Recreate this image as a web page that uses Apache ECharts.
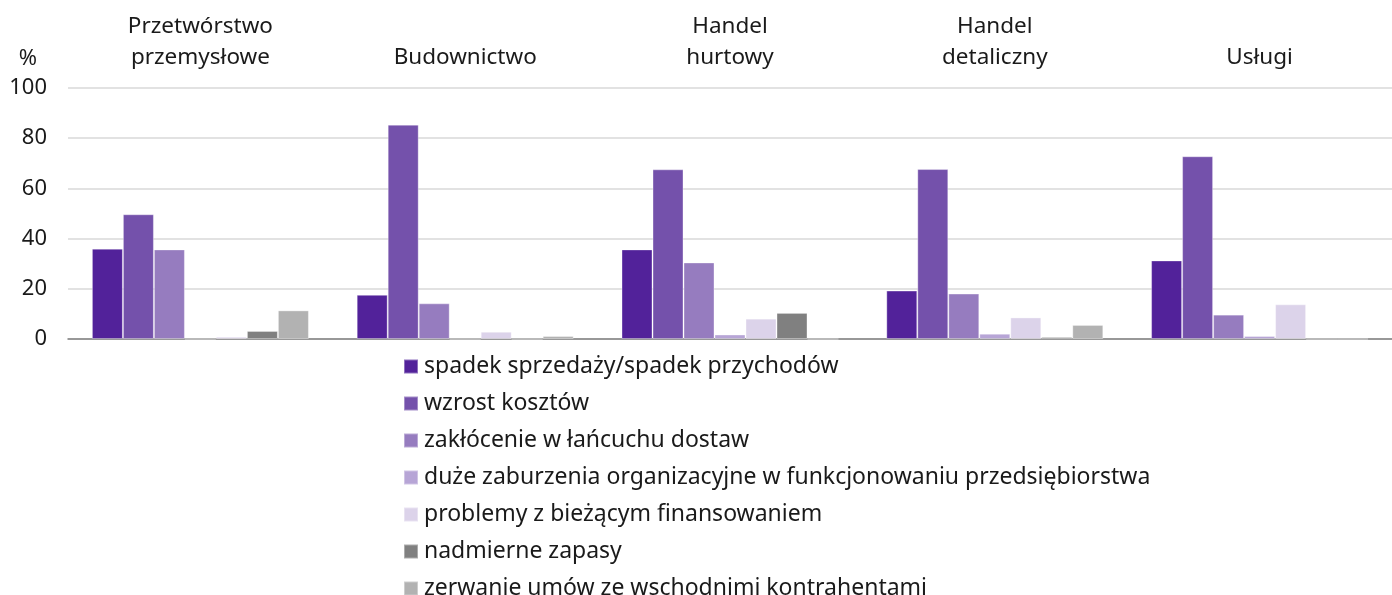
<!DOCTYPE html>
<html>
<head>
<meta charset="utf-8">
<script src="https://cdn.jsdelivr.net/npm/echarts@6/dist/echarts.min.js"></script>
<style>
  html, body { margin: 0; padding: 0; background: #fff; }
  #chart { width: 1392px; height: 595px; }
</style>
</head>
<body>
<div id="chart"></div>
<script>
// kategorie (sekcje)
const sectors = ['Przetwórstwo\nprzemysłowe', 'Budownictwo', 'Handel\nhurtowy', 'Handel\ndetaliczny', 'Usługi']

const seriesNames = [
  'spadek sprzedaży/spadek przychodów',
  'wzrost kosztów',
  'zakłócenie w łańcuchu dostaw',
  'duże zaburzenia organizacyjne w funkcjonowaniu przedsiębiorstwa',
  'problemy z bieżącym finansowaniem',
  'nadmierne zapasy',
  'zerwanie umów ze wschodnimi kontrahentami'
]

// wartości w % dla kolejnych sekcji
const spadekSprzedazy = [36.0, 17.6, 35.7, 19.3, 31.3]
const wzrostKosztow = [49.7, 85.4, 67.6, 67.7, 72.8]
const zaklocenieDostaw = [35.7, 14.2, 30.5, 18.1, 9.7]
const zaburzeniaOrg = [0, 0, 1.8, 2.1, 1.2]
const problemyFinansowe = [0.9, 2.9, 8.1, 8.6, 13.8]
const nadmierneZapasy = [3.2, 0, 10.4, 0.8, 0]
const zerwanieUmow = [11.4, 1.2, 0, 5.6, 0]

const yTicks = [0, 20, 40, 60, 80, 100]

const values = [spadekSprzedazy, wzrostKosztow, zaklocenieDostaw, zaburzeniaOrg, problemyFinansowe, nadmierneZapasy, zerwanieUmow]
const colors = ['#52229a', '#7451ab', '#967cbf', '#b7a5d6', '#dcd3ea', '#808080', '#b2b2b2']

const font = 'Noto Sans'

const chart = echarts.init(document.getElementById('chart'))
chart.setOption({
  animation: false,
  color: colors,
  textStyle: { fontFamily: font },
  grid: { left: 68, right: 0, top: 88, bottom: 256, containLabel: false },
  legend: {
    orient: 'vertical',
    left: 398,
    top: 350,
    height: 400,
    itemWidth: 14,
    itemHeight: 14,
    itemGap: 14,
    icon: 'rect',
    textStyle: { fontSize: 23, color: '#1a1a1a', fontFamily: font, lineHeight: 23, padding: [0, 0, 0, 1] },
    data: seriesNames
  },
  xAxis: [
    {
      type: 'category',
      data: sectors,
      position: 'bottom',
      axisLine: { lineStyle: { color: '#808080', width: 1.5 } },
      axisTick: { show: false },
      axisLabel: { show: false }
    },
    {
      type: 'category',
      data: sectors,
      position: 'top',
      axisLine: { show: false },
      axisTick: { show: false },
      axisLabel: { fontSize: 22.5, color: '#1a1a1a', fontFamily: font, lineHeight: 31, margin: 15 }
    }
  ],
  yAxis: {
    type: 'value',
    min: yTicks[0],
    max: yTicks[yTicks.length - 1],
    interval: 20,
    name: '%',
    nameLocation: 'end',
    nameGap: 18,
    nameTextStyle: { fontSize: 22, color: '#1a1a1a', align: 'right', padding: [0, 31, 0, 0] },
    axisLine: { show: false },
    axisTick: { show: false },
    axisLabel: { fontSize: 22, color: '#1a1a1a', margin: 21 },
    splitLine: { lineStyle: { color: '#d9d9d9', width: 1.5 } }
  },
  series: seriesNames.map((name, i) => ({
    name: name,
    type: 'bar',
    xAxisIndex: 0,
    data: values[i],
    barWidth: 31,
    barGap: '0%',
    itemStyle: { borderColor: 'rgba(255,255,255,0.35)', borderWidth: 1 }
  }))
})
</script>
</body>
</html>
